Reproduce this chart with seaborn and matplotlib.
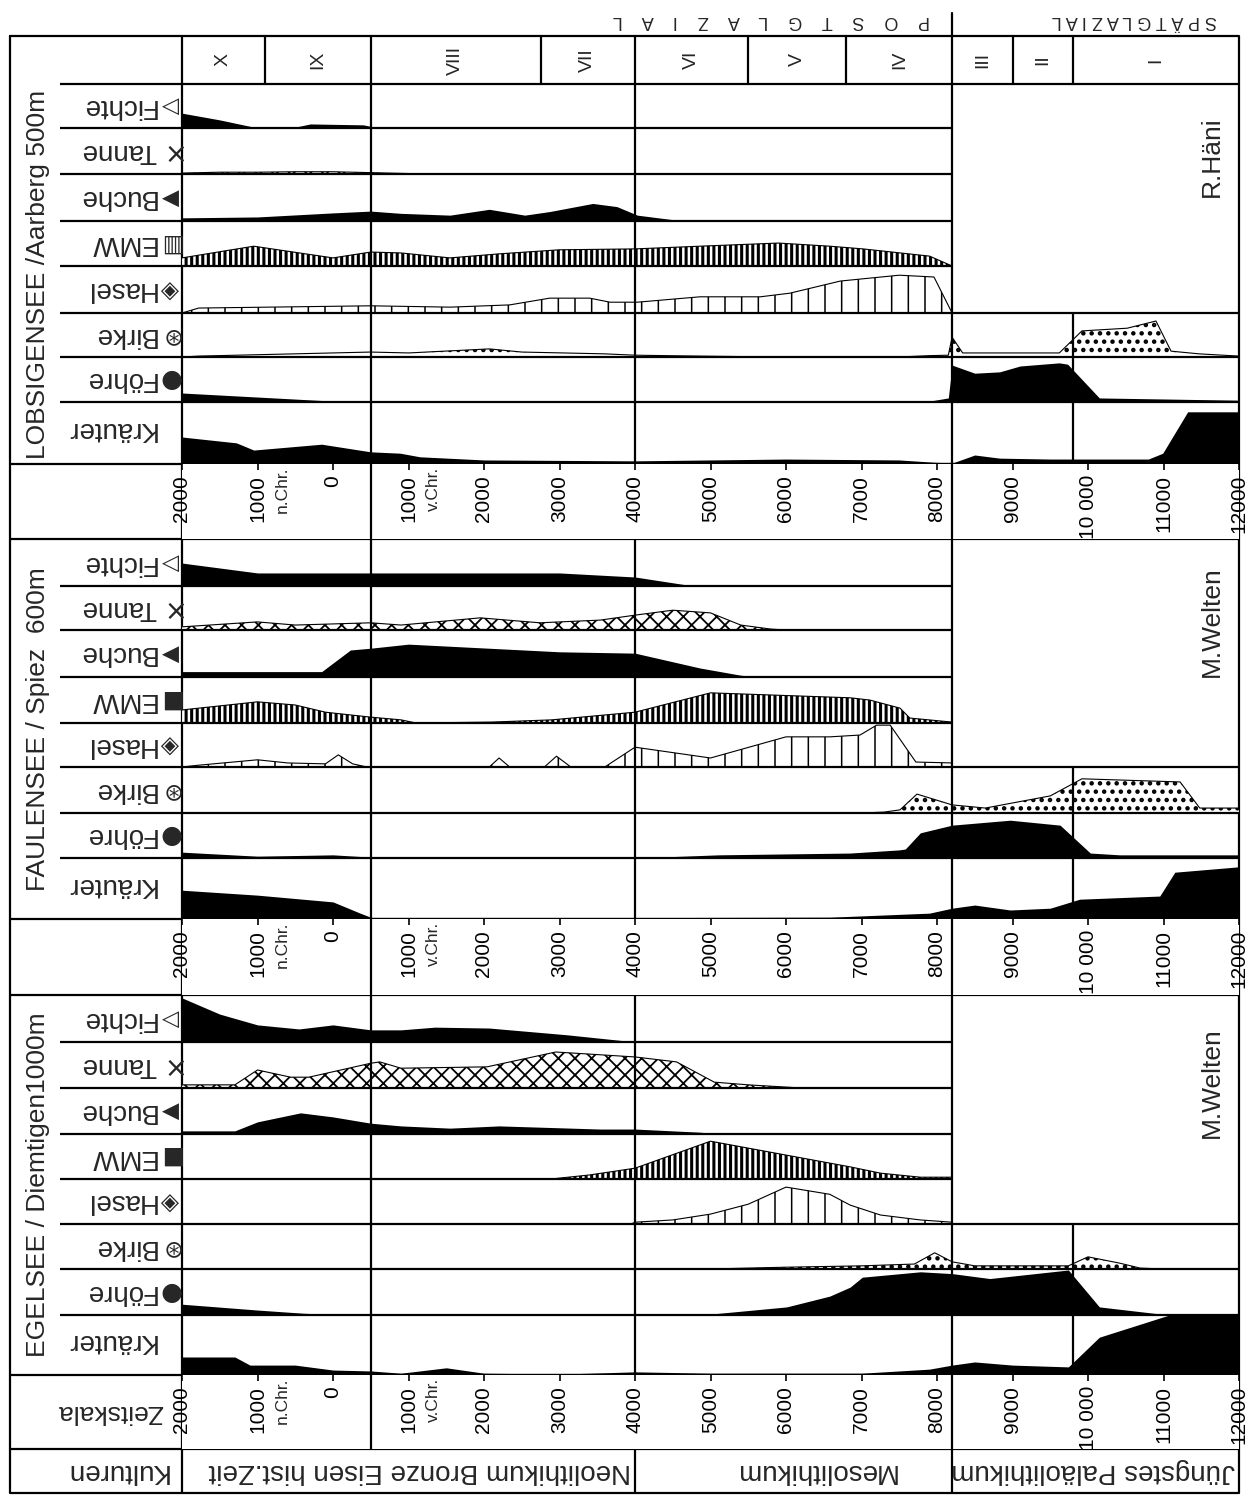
import matplotlib
matplotlib.use("Agg")
import matplotlib.pyplot as plt
import seaborn as sns

sns.set_theme(style="white")
plt.rcParams["font.family"] = ["Liberation Sans", "DejaVu Sans"]
plt.rcParams["hatch.color"] = "black"
plt.rcParams["hatch.linewidth"] = 1.2

# ---------------------------------------------------------------- data
# time in years: negative = n.Chr., positive = v.Chr.
T_START, T_END = -2000, 12000
ZONE_EDGES = [-2000, -900, 500, 2750, 4000, 5500, 6800, 8200, 9000, 9800, 12000]
ZONE_NAMES = ["X", "IX", "VIII", "VII", "VI", "V", "IV", "III", "II", "I"]
TICK_T = [-2000, -1000, 0, 1000, 2000, 3000, 4000, 5000, 6000, 7000,
          8000, 9000, 10000, 11000, 12000]
TICK_LABELS = ["2000", "1000", "0", "1000", "2000", "3000", "4000", "5000",
               "6000", "7000", "8000", "9000", "10 000", "11000", "12000"]
ERA_T = [-1000, 1000]
ERA_LABELS = ["n.Chr.", "v.Chr."]
CULTURE_EDGES = [4000, 8200]
CULTURES = ["Neolithikum Bronze Eisen hist.Zeit", "Mesolithikum",
            "Jüngstes Paläolithikum"]
CULTURE_POS = [3950, 6380, 11950]
PERIODS = ["P    O    S    T    G    L    A    Z    I    A    L",
           "S P Ä T G L A Z I A L"]
PERIOD_POS = [5800, 10620]
MAIN_LINES = [500, 4000, 8200]
LATE_LINE = 9800

TAXA = ["Fichte", "Tanne", "Buche", "EMW", "Hasel", "Birke", "Föhre", "Kräuter"]

# Lobsigensee / Aarberg (values in % of strip)
LOB_FICHTE_T = [-2000, -1500, -1050, -500, -300, 400, 550, 700, 8200]
LOB_FICHTE = [33, 18, 2, 2, 9, 7, 2, 0, 0]
LOB_TANNE_T = [-2000, -1500, -1000, -500, 0, 500, 1000, 1200, 8200]
LOB_TANNE = [2, 4, 4, 5, 5, 3, 1, 0, 0]
LOB_BUCHE_T = [-2000, -1000, 0, 500, 900, 1550, 2070, 2540, 2870, 3440, 3760, 4030, 4640, 8200]
LOB_BUCHE = [7, 9, 18, 22, 17, 13, 26, 13, 21, 39, 32, 13, 0, 0]
LOB_EMW_T = [-2000, -1050, 0, 500, 900, 1550, 2200, 3000, 4000, 4860, 5900, 6580, 7020, 7900, 8200]
LOB_EMW = [18, 44, 18, 31, 29, 18, 27, 36, 38, 44, 51, 44, 38, 22, 0]
LOB_HASEL_T = [-2000, -1780, 500, 1550, 2340, 2870, 3400, 3670, 4030, 4860, 5660, 6050, 6720, 7500, 7960, 8200]
LOB_HASEL = [0, 11, 16, 13, 18, 33, 33, 24, 24, 36, 36, 44, 71, 84, 80, 0]
LOB_BIRKE_T = [-2000, -1780, 500, 1000, 2070, 2500, 3600, 4000, 4860, 5900, 7500, 7900, 8150,
               8200, 8340, 9620, 9920, 10520, 10900, 11100, 11470, 12000]
LOB_BIRKE = [0, 2, 11, 9, 18, 11, 7, 4, 2, 0, 0, 3, 4, 44, 9, 9, 58, 64, 80, 13, 7, 2]
LOB_FOHRE_T = [-2000, -1000, 0, 100, 7900, 8150, 8200, 8500, 8830, 9100, 9620, 9730, 10150, 12000]
LOB_FOHRE = [20, 11, 2, 0, 2, 9, 82, 64, 67, 80, 87, 84, 9, 4]
LOB_KRAUT_T = [-2000, -1280, -1050, -150, 500, 890, 1150, 2000, 4000, 6000, 7500, 7950, 8200,
               8500, 8830, 9500, 10800, 10990, 11320, 12000]
LOB_KRAUT = [60, 47, 31, 44, 27, 24, 16, 9, 7, 11, 9, 4, 2, 20, 13, 11, 11, 24, 116, 116]

# Faulensee / Spiez
FAU_FICHTE_T = [-2000, -1000, 0, 500, 3000, 4000, 4700, 5000, 8200]
FAU_FICHTE = [51, 29, 29, 29, 29, 20, 2, 0, 0]
FAU_TANNE_T = [-2000, -1000, -500, 500, 900, 1950, 2740, 3540, 4000, 4500, 5000, 5400, 5800, 6000, 8200]
FAU_TANNE = [7, 18, 11, 16, 11, 27, 16, 22, 33, 44, 38, 11, 2, 0, 0]
FAU_BUCHE_T = [-2000, -150, 230, 500, 1000, 3000, 4000, 4860, 5400, 5600, 8200]
FAU_BUCHE = [12, 12, 60, 64, 73, 56, 53, 20, 4, 0, 0]
FAU_EMW_T = [-2000, -1000, -500, -100, 500, 900, 1100, 2100, 2900, 4000, 5000, 6850, 7110, 7510, 7640, 8200]
FAU_EMW = [29, 47, 40, 24, 13, 7, 0, 2, 7, 24, 67, 56, 51, 33, 11, 2]
FAU_HASEL_T = [-2000, -1780, -1000, -600, -100, 70, 260, 450, 2070, 2200, 2340, 2800, 2960, 3150,
               3600, 4000, 5000, 6000, 6580, 6980, 7200, 7380, 7720, 8200]
FAU_HASEL = [0, 4, 16, 9, 7, 27, 7, 0, 0, 20, 0, 0, 24, 0, 0, 44, 20, 67, 67, 71, 93, 93, 11, 9]
FAU_BIRKE_T = [-2000, 7000, 7300, 7510, 7735, 8200, 8640, 9500, 9920, 11220, 11480, 12000]
FAU_BIRKE = [0, 0, 2, 7, 42, 18, 11, 38, 76, 69, 11, 11]
FAU_FOHRE_T = [-2000, -1000, 0, 500, 1000, 4000, 5100, 6850, 7500, 7580, 7780, 8200, 8970, 9630,
               10030, 10420, 12000]
FAU_FOHRE = [13, 4, 7, 2, 0, 0, 7, 11, 18, 20, 56, 73, 84, 73, 11, 7, 7]
FAU_KRAUT_T = [-2000, -1000, 0, 360, 560, 1000, 6580, 7900, 8200, 8500, 8970, 9500, 9890, 10950, 11150, 12000]
FAU_KRAUT = [64, 53, 38, 13, 0, 2, 4, 13, 24, 31, 20, 24, 44, 51, 104, 116]

# Egelsee / Diemtigen
EGE_FICHTE_T = [-2000, -1500, -1000, -450, 0, 500, 900, 1350, 2070, 3100, 3900, 4000, 8200]
EGE_FICHTE = [98, 62, 38, 29, 38, 27, 27, 33, 31, 16, 2, 0, 0]
EGE_TANNE_T = [-2000, -1300, -1000, -560, -320, 500, 620, 900, 2040, 2950, 4000, 4550, 5050,
               5500, 6200, 8200]
EGE_TANNE = [7, 7, 40, 24, 24, 55, 58, 44, 47, 80, 69, 58, 13, 7, 0, 0]
EGE_BUCHE_T = [-2000, -1300, -1000, -430, 0, 500, 900, 1550, 2200, 3540, 4000, 4860, 5100, 8200]
EGE_BUCHE = [7, 7, 27, 47, 38, 24, 18, 13, 18, 11, 11, 4, 0, 0]
EGE_EMW_T = [-2000, 2900, 3000, 3400, 4000, 5000, 6200, 6850, 7250, 7780, 8200]
EGE_EMW = [0, 0, 2, 9, 24, 84, 47, 27, 13, 4, 4]
EGE_HASEL_T = [-2000, 3950, 4000, 4500, 5000, 5500, 6000, 6580, 6850, 7250, 7780, 8200]
EGE_HASEL = [0, 0, 4, 9, 22, 44, 82, 66, 42, 20, 9, 4]
EGE_BIRKE_T = [-2000, 5000, 5500, 6000, 7000, 7700, 7970, 8200, 8500, 9740, 10000, 10420, 10690, 11000, 12000]
EGE_BIRKE = [0, 0, 2, 4, 7, 11, 36, 16, 7, 7, 27, 13, 2, 0, 0]
EGE_FOHRE_T = [-2000, -1000, -400, 100, 4600, 5000, 6010, 6580, 6850, 7010, 7780, 8200, 8700,
               9740, 10150, 11070, 12000]
EGE_FOHRE = [24, 11, 4, 0, 0, 2, 18, 42, 62, 84, 96, 92, 81, 100, 18, 0, 0]
EGE_KRAUT_T = [-2000, -1300, -1100, -500, 0, 500, 900, 1500, 2000, 3000, 4000, 5000, 7000, 7900,
               8200, 8500, 9000, 9740, 10150, 11070, 12000]
EGE_KRAUT = [40, 40, 22, 22, 11, 9, 4, 16, 4, 2, 7, 4, 4, 13, 22, 29, 22, 18, 84, 133, 133]

LOB = [(LOB_FICHTE_T, LOB_FICHTE), (LOB_TANNE_T, LOB_TANNE), (LOB_BUCHE_T, LOB_BUCHE),
       (LOB_EMW_T, LOB_EMW), (LOB_HASEL_T, LOB_HASEL), (LOB_BIRKE_T, LOB_BIRKE),
       (LOB_FOHRE_T, LOB_FOHRE), (LOB_KRAUT_T, LOB_KRAUT)]
FAU = [(FAU_FICHTE_T, FAU_FICHTE), (FAU_TANNE_T, FAU_TANNE), (FAU_BUCHE_T, FAU_BUCHE),
       (FAU_EMW_T, FAU_EMW), (FAU_HASEL_T, FAU_HASEL), (FAU_BIRKE_T, FAU_BIRKE),
       (FAU_FOHRE_T, FAU_FOHRE), (FAU_KRAUT_T, FAU_KRAUT)]
EGE = [(EGE_FICHTE_T, EGE_FICHTE), (EGE_TANNE_T, EGE_TANNE), (EGE_BUCHE_T, EGE_BUCHE),
       (EGE_EMW_T, EGE_EMW), (EGE_HASEL_T, EGE_HASEL), (EGE_BIRKE_T, EGE_BIRKE),
       (EGE_FOHRE_T, EGE_FOHRE), (EGE_KRAUT_T, EGE_KRAUT)]

SYMBOLS_LOB = ["▷", "×", "▶", "▥", "◈", "⊛", "●", ""]
SYMBOLS = ["▷", "×", "▶", "■", "◈", "⊛", "●", ""]

# ---------------------------------------------------------------- styles / layout
HATCH = {"Fichte": None, "Tanne": ("xx", 1.3), "Buche": None, "EMW": ("|||", 2.2),
         "Hasel": ("|", 1.1), "Birke": ("..", 2.0), "Föhre": None, "Kräuter": None}
SYM_SIZE = {"▷": 16, "×": 20, "▶": 16, "▥": 17, "■": 17, "◈": 17, "⊛": 17, "●": 18, "": 10}

W, H = 1250, 1495
FR_L, FR_R, FR_T, FR_B = 10, 1239, 36, 1493
COL_X = 60          # start of taxon column
X0, X1 = 182, 1239  # time axis extent
HDR_B = 84
PX_PER_PCT = 0.45
LW = 1.6

SECTIONS = [
    ("LOBSIGENSEE /Aarberg 500m", "R.Häni", LOB, SYMBOLS_LOB, 84,
     [128, 174, 221, 266, 313, 357, 402, 464], (464, 539)),
    ("FAULENSEE / Spiez  600m", "M.Welten", FAU, SYMBOLS, 539,
     [586, 630, 677, 723, 767, 813, 858, 919], (919, 995)),
    ("EGELSEE / Diemtigen1000m", "M.Welten", EGE, SYMBOLS, 995,
     [1042, 1088, 1134, 1179, 1224, 1269, 1315, 1375], (1375, 1449)),
]
KULT = (1449, FR_B)

fig = plt.figure(figsize=(W / 100, H / 100), dpi=100)


def px_axes(x0, y0, x1, y1):
    return fig.add_axes([x0 / W, 1 - y1 / H, (x1 - x0) / W, (y1 - y0) / H])


frame = px_axes(0, 0, W, H)
frame.set_xlim(0, W)
frame.set_ylim(H, 0)
frame.axis("off")
kw = dict(color="black", lw=LW)
frame.plot([FR_L, FR_R, FR_R, FR_L, FR_L], [FR_T, FR_T, FR_B, FR_B, FR_T], **kw)
frame.vlines(X0, FR_T, FR_B, **kw)
frame.hlines(HDR_B, COL_X, FR_R, **kw)


def draw_strip(ax, t, v, taxon, ymax, base_end, vlines):
    style = HATCH[taxon]
    if style is None:
        ax.fill_between(t, v, 0, color="black", lw=0)
    else:
        hatch, hlw = style
        with plt.rc_context({"hatch.linewidth": hlw}):
            poly = ax.fill_between(t, v, 0, facecolor="white", edgecolor="black",
                                   hatch=hatch, lw=0)
        if hasattr(poly, "set_hatch_linewidth"):
            poly.set_hatch_linewidth(hlw)
        sns.lineplot(x=t, y=v, ax=ax, color="black", lw=0.8, estimator=None,
                     sort=False, legend=False)
    ax.hlines(0, T_START, base_end, color="black", lw=LW, clip_on=False)
    for xv in vlines:
        ax.axvline(xv, color="black", lw=LW)
    ax.set_xlim(T_START, T_END)
    ax.set_ylim(0, ymax)
    ax.axis("off")


# zone header
hdr = px_axes(X0, FR_T, X1, HDR_B)
hdr.axis("off")
for b in ZONE_EDGES[1:-1]:
    hdr.axvline(b, color="black", lw=LW, ymin=0, ymax=1.48 if b == 8200 else 1, clip_on=False)
for a, b, name in zip(ZONE_EDGES[:-1], ZONE_EDGES[1:], ZONE_NAMES):
    hdr.text((a + b) / 2, 0.5, name, transform=hdr.get_xaxis_transform(), rotation=90,
             ha="center", va="center", fontsize=14)
for name, pos in zip(PERIODS, PERIOD_POS):
    hdr.text(pos, 1.33, name, transform=hdr.get_xaxis_transform(), rotation=180,
             ha="center", va="center", fontsize=13)
hdr.set_xlim(T_START, T_END)

for site, credit, series, symbols, top, bottoms, (tk0, tk1) in SECTIONS:
    tops = [top] + bottoms[:-1]
    for i, (taxon, (t, v), sym, y0, y1) in enumerate(zip(TAXA, series, symbols, tops, bottoms)):
        ax = px_axes(X0, y0, X1, y1)
        lines = MAIN_LINES + ([LATE_LINE] if i >= 5 else [])
        draw_strip(ax, t, v, taxon, (y1 - y0) / PX_PER_PCT, 8200 if i < 4 else T_END, lines)
        yc = (y0 + y1) / 2 - (4 if taxon == "Kräuter" else 0)
        frame.text(156, yc, taxon, rotation=180, ha="right", va="center", fontsize=20)
        if sym:
            frame.text(170, yc, sym, rotation=180, ha="center", va="center",
                       fontsize=SYM_SIZE[sym], family=["DejaVu Sans"])
        if i < 7:
            frame.hlines(y1, COL_X, X0, **kw)
    frame.text(38, (top + bottoms[-1]) / 2, site, rotation=90, ha="center", va="center",
               fontsize=19)
    cy = {84: 157, 539: 622, 995: 1083}[top]
    frame.text(1212, cy, credit, rotation=90, ha="center", va="center", fontsize=19)

    # time scale row
    frame.hlines([tk0, tk1], FR_L, FR_R, **kw)
    tk = px_axes(X0, tk0, X1, tk1)
    tk.set_xlim(T_START, T_END)
    tk.set_ylim(0, 1)
    for s in tk.spines.values():
        s.set_visible(False)
    tk.set_yticks([])
    tk.set_xticks(TICK_T)
    tk.set_xticklabels(TICK_LABELS)
    tk.tick_params(axis="x", bottom=False, labelbottom=False, top=True, labeltop=True,
                   direction="in", length=4.5, width=1.2, pad=-8, labelsize=15,
                   labelrotation=90, colors="black")
    for lab in tk.get_xticklabels():
        lab.set_va("top")
    for et, el in zip(ERA_T, ERA_LABELS):
        tk.annotate(el, xy=(et, 1), xycoords=("data", "axes fraction"), xytext=(18, -2),
                    textcoords="offset points", rotation=90, ha="center", va="top",
                    fontsize=12.5)
    for xv in (500, 8200):
        tk.axvline(xv, color="black", lw=LW)

frame.text(163, 1412, "Zeitskala", rotation=180, ha="right", va="center", fontsize=19)
frame.text(168, 1471, "Kulturen", rotation=180, ha="right", va="center", fontsize=20)

kult = px_axes(X0, KULT[0], X1, KULT[1])
kult.set_xlim(T_START, T_END)
kult.axis("off")
for xv in CULTURE_EDGES:
    kult.axvline(xv, color="black", lw=LW)
for name, pos, ha in zip(CULTURES, CULTURE_POS, ["right", "center", "right"]):
    kult.text(pos, 0.5, name, transform=kult.get_xaxis_transform(), rotation=180,
              ha=ha, va="center", fontsize=20)

fig.savefig("out.png", dpi=100)
